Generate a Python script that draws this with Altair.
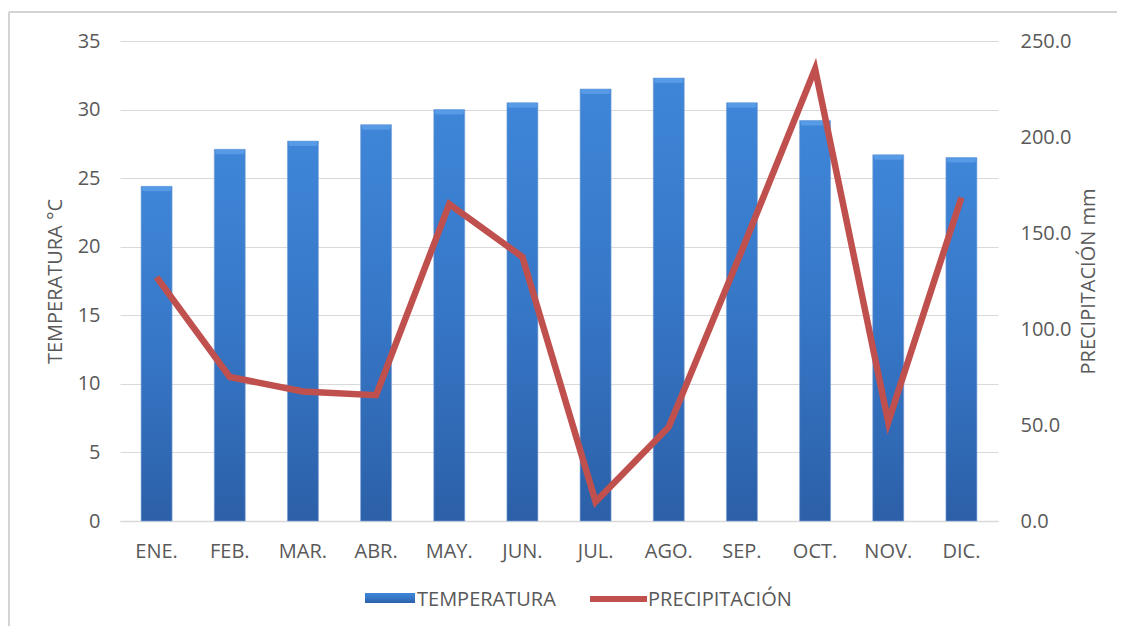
import altair as alt
import pandas as pd

months = ["ENE.", "FEB.", "MAR.", "ABR.", "MAY.", "JUN.", "JUL.", "AGO.", "SEP.", "OCT.", "NOV.", "DIC."]
temperatura = [24.4, 27.1, 27.7, 28.9, 30.0, 30.5, 31.5, 32.3, 30.5, 29.2, 26.7, 26.5]
precipitacion = [127.0, 75.0, 67.5, 65.5, 165.0, 137.5, 10.0, 49.0, 141.0, 235.5, 51.5, 168.5]
temp_ticks = [0, 5, 10, 15, 20, 25, 30, 35]
precip_ticks = [0, 50, 100, 150, 200, 250]
legend_labels = ["TEMPERATURA", "PRECIPITACIÓN"]

df = pd.DataFrame({"mes": months, "temp": temperatura, "prec": precipitacion})

FONT = "Open Sans"
GRAY = "#595959"

bar_grad = alt.LinearGradient(
    gradient="linear",
    stops=[
        alt.GradientStop(color="#3f86d8", offset=0),
        alt.GradientStop(color="#3676c6", offset=0.5),
        alt.GradientStop(color="#2c60a8", offset=1),
    ],
    x1=0, x2=0, y1=0, y2=1,
)

x_enc = alt.X(
    "mes:N", sort=months,
    axis=alt.Axis(title=None, labelAngle=0, ticks=False, domainColor="#d9d9d9",
                  domainWidth=1.5, labelPadding=20, labelFontSize=20, labelColor=GRAY,
                  labelFont=FONT, labelFontWeight="normal"),
)

base = alt.Chart(df)

bars = base.mark_bar(width=31, fill=bar_grad, stroke="#7ea3d6", strokeWidth=1, strokeOpacity=0.6).encode(
    x=x_enc,
    y=alt.Y("temp:Q", scale=alt.Scale(domain=[0, 35]),
            axis=alt.Axis(values=temp_ticks, title="TEMPERATURA °C", orient="left",
                          grid=True, gridColor="#d9d9d9", gridWidth=1.2, domain=False, ticks=False,
                          labelPadding=20, labelFontSize=20, labelColor=GRAY, labelFont=FONT,
                          titleFont=FONT, titleFontSize=20, titleColor=GRAY, titleFontWeight="normal",
                          titlePadding=12)),
)

caps = base.mark_tick(size=29, thickness=5, color="#62a2ec", yOffset=2.5, cornerRadius=2).encode(
    x=alt.X("mes:N", sort=months),
    y=alt.Y("temp:Q", scale=alt.Scale(domain=[0, 35]), axis=None),
)

line = base.mark_line(color="#c0504d", strokeWidth=6.5, strokeJoin="miter").encode(
    x=alt.X("mes:N", sort=months),
    y=alt.Y("prec:Q", scale=alt.Scale(domain=[0, 250]),
            axis=alt.Axis(values=precip_ticks, format=".1f", title="PRECIPITACIÓN mm", orient="right",
                          grid=False, domain=False, ticks=False,
                          labelPadding=22, labelFontSize=20, labelColor=GRAY, labelFont=FONT,
                          titleFont=FONT, titleFontSize=20, titleColor=GRAY, titleFontWeight="normal",
                          titleAngle=270, titleBaseline="top", titlePadding=8)),
)

one = alt.Data(values=[{"a": 1}])

frame_top = alt.Chart(one).mark_rule(color="#d4d4d4", strokeWidth=2).encode(
    x=alt.value(-111), x2=alt.value(1100), y=alt.value(-29)
)
frame_left = alt.Chart(one).mark_rule(color="#d4d4d4", strokeWidth=2).encode(
    x=alt.value(-111), y=alt.value(-29), y2=alt.value(700)
)

leg_rect = alt.Chart(one).mark_rect(fill=bar_grad).encode(
    x=alt.value(245), x2=alt.value(295), y=alt.value(552), y2=alt.value(562)
)
leg_rule = alt.Chart(one).mark_rule(color="#c0504d", strokeWidth=6).encode(
    x=alt.value(470), x2=alt.value(527), y=alt.value(558)
)
leg_t1 = alt.Chart(one).mark_text(align="left", baseline="middle", font=FONT, fontSize=20, color=GRAY).encode(
    x=alt.value(297), y=alt.value(559), text=alt.value(legend_labels[0])
)
leg_t2 = alt.Chart(one).mark_text(align="left", baseline="middle", font=FONT, fontSize=20, color=GRAY).encode(
    x=alt.value(528), y=alt.value(559), text=alt.value(legend_labels[1])
)

chart = alt.layer(frame_top, frame_left, bars, caps, line, leg_rect, leg_rule, leg_t1, leg_t2).resolve_scale(
    y="independent"
).properties(
    width=878, height=480,
    autosize=alt.AutoSizeParams(type="none"),
    padding={"left": 112, "top": 33, "right": 119, "bottom": 105},
    background="white",
).configure_view(stroke=None)

chart.save("out.html", embed_options={"renderer": "svg", "actions": False})
